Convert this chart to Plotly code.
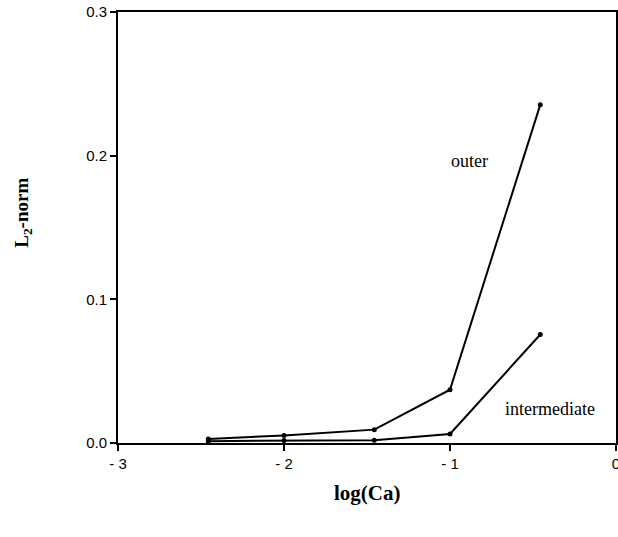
import plotly.graph_objects as go

log_ca = [-2.456, -2.0, -1.456, -1.0, -0.456]
outer = [0.0028, 0.0053, 0.0093, 0.0371, 0.2355]
intermediate = [0.0013, 0.0018, 0.0020, 0.0063, 0.0755]
x_ticks = [-3, -2, -1, 0]
x_tick_labels = ["- 3", "- 2", "- 1", "0"]
y_ticks = [0.0, 0.1, 0.2, 0.3]
y_tick_labels = ["0.0", "0.1", "0.2", "0.3"]

fig = go.Figure()
for name, ys in [("outer", outer), ("intermediate", intermediate)]:
    fig.add_trace(go.Scatter(x=log_ca, y=ys, mode="lines+markers", name=name,
                             line=dict(color="black", width=2),
                             marker=dict(color="black", size=5)))

fig.add_annotation(x=-0.88, y=0.196, text="outer", showarrow=False,
                   font=dict(family="Liberation Serif", size=18, color="black"))
fig.add_annotation(x=-0.40, y=0.024, text="intermediate", showarrow=False,
                   font=dict(family="Liberation Serif", size=18, color="black"))
fig.add_annotation(xref="paper", yref="paper", x=-0.19, y=0.535,
                   xanchor="center", yanchor="middle",
                   text="<b>L<sub>2</sub>-norm</b>",
                   textangle=-90, showarrow=False,
                   font=dict(family="Liberation Serif", size=19, color="black"))
fig.add_annotation(xref="paper", yref="paper", x=0.5, y=-0.115, text="<b>log(Ca)</b>",
                   showarrow=False, xanchor="center", yanchor="middle",
                   font=dict(family="Liberation Serif", size=21, color="black"))

axis_common = dict(showgrid=False, zeroline=False, showline=True, linecolor="black",
                   linewidth=2, mirror=True, ticks="outside", ticklen=6, tickwidth=2,
                   tickcolor="black", automargin=False, ticklabeloverflow="allow",
                   tickfont=dict(family="Liberation Sans", size=15, color="black"))
fig.update_xaxes(range=[-3, 0], tickvals=x_ticks, ticktext=x_tick_labels, **axis_common)
fig.update_yaxes(range=[0, 0.3], tickvals=y_ticks, ticktext=y_tick_labels, **axis_common)
fig.update_layout(width=618, height=537, showlegend=False,
                  margin=dict(l=118, r=2, t=12, b=94, autoexpand=False),
                  plot_bgcolor="white", paper_bgcolor="white")
fig.write_html("out.html", config={"displayModeBar": False},
               post_script="document.body.style.margin='0';document.body.style.overflow='hidden';")
